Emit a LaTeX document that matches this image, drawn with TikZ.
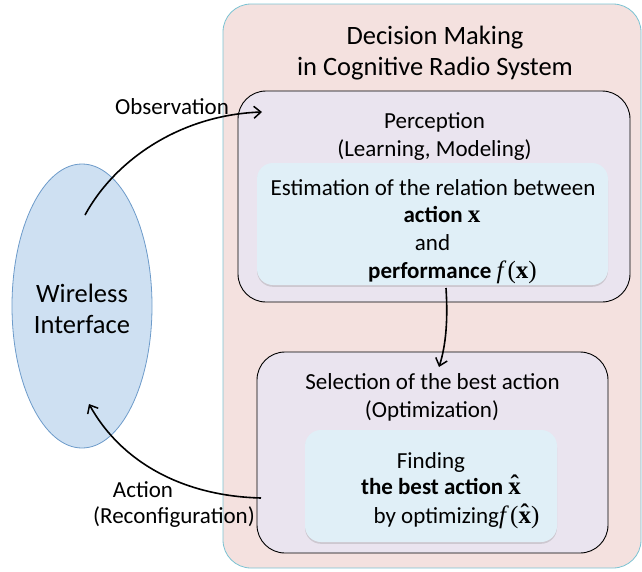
\documentclass[tikz,border=0pt]{standalone}
\usepackage{fontspec}
\setmainfont{Carlito}
\newfontfamily\serifm{Liberation Serif}
\usetikzlibrary{arrows.meta,shadows,shapes.geometric}
\definecolor{outerfill}{HTML}{F4E1DF}
\definecolor{outerdraw}{HTML}{7CC3D3}
\definecolor{midfill}{HTML}{EAE4EF}
\definecolor{innerfill}{HTML}{E0EFF7}
\definecolor{ellfill}{HTML}{CEE0F2}
\definecolor{elldraw}{HTML}{6D9BCA}
\newcommand{\mysize}{\fontsize{23}{28}\selectfont}
\newcommand{\bigsize}{\fontsize{26.5}{32}\selectfont}
\newcommand{\mathsize}{\fontsize{25}{28}\selectfont}
\newcommand{\xhatb}{\hbox{\serifm\bfseries\rlap{x}\hbox to 0.5em{\hss\raisebox{0.07em}{ˆ}\hss}}}
\begin{document}
\begin{tikzpicture}[x=1pt,y=-1pt,
  box/.style={rectangle,inner sep=0pt,outer sep=0pt},
  outerbox/.style={box,fill=outerfill,draw=outerdraw,line width=0.8pt,rounded corners=28pt},
  midbox/.style={box,fill=midfill,draw=black,line width=0.9pt,rounded corners=28pt},
  innerbox/.style={box,fill=innerfill,rounded corners=16pt,
     drop shadow={shadow xshift=0pt,shadow yshift=-1.8pt,opacity=0.22,fill=black!60}},
  txt/.style={anchor=base,inner sep=0pt,font=\mysize},
  bigtxt/.style={anchor=base,inner sep=0pt,font=\bigsize},
  arr/.style={line width=1.6pt,-{Straight Barb[length=7pt,width=12pt,line width=1.5pt]}}
]
\useasboundingbox (0,0) rectangle (642,571);

\node[outerbox,minimum width=418pt,minimum height=564pt] (outer) at (432,286) {};
\node[midbox,minimum width=392pt,minimum height=211pt] (perc) at (434,196.5) {};
\node[innerbox,minimum width=351pt,minimum height=122pt] (est) at (432.5,224) {};
\node[midbox,minimum width=351pt,minimum height=201pt] (sel) at (432.5,452.5) {};
\node[innerbox,minimum width=252pt,minimum height=112pt] (find) at (431,486) {};
\node[ellipse,fill=ellfill,draw=elldraw,line width=0.8pt,inner sep=0pt,
      minimum width=140pt,minimum height=284pt] (wi) at (82,306) {};

% titles
\node[bigtxt] (t1) at (435,44) {Decision Making};
\node[bigtxt] (t2) at (435,75) {in Cognitive Radio System};
\node[bigtxt] (w1) at (82,302) {Wireless};
\node[bigtxt] (w2) at (82,333) {Interface};

\node[txt] (p1) at (434.5,128) {Perception};
\node[txt] (p2) at (434.5,156) {(Learning, Modeling)};

\node[txt] (e1) at (433,195) {Estimation of the relation between};
\node[txt] (e2) at (442,222) {\textbf{action} {\mathsize\serifm\bfseries x}};
\node[txt] (e3) at (432.5,250) {and};
\node[txt] (e4) at (452.5,278) {\textbf{performance} {\mathsize\serifm{\itshape f\,}(\textbf{x})}};

\node[txt] (s1) at (432.5,389) {Selection of the best action};
\node[txt] (s2) at (432,417) {(Optimization)};

\node[txt] (f1) at (431,468) {Finding};
\node[txt] (f2) at (441,494) {\textbf{the best action} {\mathsize\xhatb}};
\node[txt] (f3) at (456.5,523) {by optimizing{\mathsize\serifm{\itshape f\,}(\xhatb)}};

\node[txt] (obs) at (172,114) {Observation};
\node[txt] (act1) at (143,497) {Action};
\node[txt] (act2) at (174,523) {(Reconfiguration)};

% connector end points
\coordinate (wiout) at (85,215);
\coordinate (percin) at (262,112);
\coordinate (estout) at (446,288);
\coordinate (selin) at (439,367);
\coordinate (selout) at (261,498);
\coordinate (wiin) at (89,404);

\draw[arr] (wiout) .. controls (115,160) and (180,115) .. (percin);
\draw[arr] (estout) .. controls (448,320) and (446,345) .. (selin);
\draw[arr] (selout) .. controls (180,496) and (120,460) .. (wiin);
\end{tikzpicture}
\end{document}
